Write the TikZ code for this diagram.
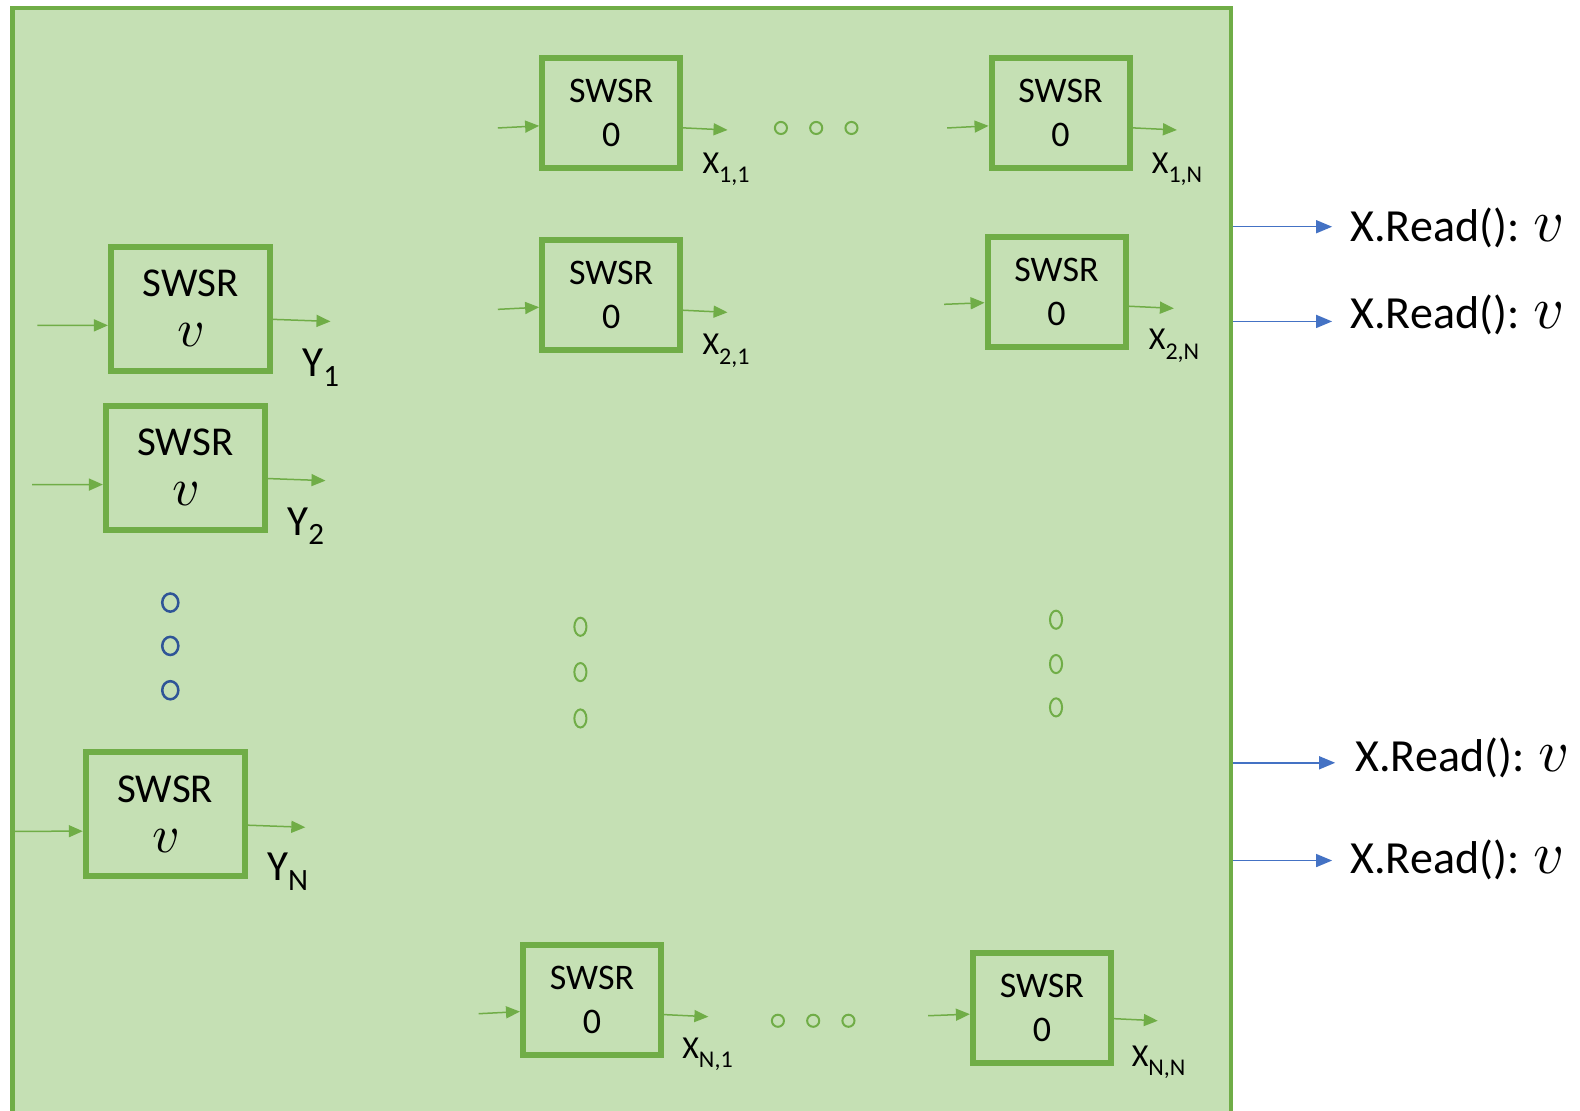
\documentclass[tikz,border=0pt]{standalone}
\usepackage{graphicx}
\usepackage{fontspec}
\setmainfont{Carlito}
\usepackage{unicode-math}
\setmathfont{Latin Modern Math}
\usetikzlibrary{arrows.meta}
\definecolor{bg}{HTML}{C5E0B4}
\definecolor{grn}{HTML}{70AD47}
\definecolor{blu}{HTML}{4472C4}
\definecolor{dblu}{HTML}{2F5597}
\newcommand{\mysub}[1]{\raisebox{-0.3em}{\fontsize{24}{24}\selectfont #1}}
\newcommand{\mysubY}[1]{\raisebox{-0.22em}{\fontsize{31}{31}\selectfont #1}}
\newcommand{\scv}{\scalebox{1.3}{$v$}}
\begin{document}
\begin{tikzpicture}[x=1.0077pt,y=-1.0077pt,
  swsrbox/.style={draw=grn, line width=6pt, align=center, inner sep=0pt},
  ybox/.style={swsrbox, minimum width=159pt, minimum height=124pt, font=\fontsize{41}{50}\selectfont},
  xbox/.style={swsrbox, minimum width=138pt, minimum height=110pt, font=\fontsize{36}{44}\selectfont},
  garrow/.style={draw=grn, line width=1.5pt, -{Triangle[length=14pt,width=12pt]}},
  barrow/.style={draw=blu, line width=1.5pt, -{Triangle[length=16pt,width=13pt]}},
  lbl/.style={anchor=base west, inner sep=0pt, font=\fontsize{32}{36}\selectfont},
  lbly/.style={anchor=base west, inner sep=0pt, font=\fontsize{43}{46}\selectfont},
  rlbl/.style={anchor=base west, inner sep=0pt, font=\fontsize{46}{50}\selectfont},
  gdot/.style={draw=grn, line width=2pt},
  bdot/.style={draw=dblu, line width=2.5pt}]
\useasboundingbox (0,0) rectangle (1568,1102);
% frame
\node[draw=grn, fill=bg, line width=4.5pt, minimum width=1219pt, minimum height=1112pt, inner sep=0pt] (frame) at (617,559.5) {};
% Y boxes
\node[ybox] (Y1) at (189,306.5) {SWSR\\\scv};
\node[ybox] (Y2) at (184,464) {SWSR\\\scv};
\node[ybox] (YN) at (164,808) {SWSR\\\scv};
% X boxes
\node[xbox] (X11) at (606.5,112.5) {SWSR\\0};
\node[xbox] (X1N) at (1052.5,112.5) {SWSR\\0};
\node[xbox] (X21) at (606.5,293) {SWSR\\0};
\node[xbox] (X2N) at (1048.5,289.5) {SWSR\\0};
\node[xbox] (XN1) at (587.5,992) {SWSR\\0};
\node[xbox] (XNN) at (1034,1000.5) {SWSR\\0};
% input coordinates
\coordinate (iY1) at (37,323);
\coordinate (iY2) at (32,481);
\coordinate (iYN) at (14,825);
\coordinate (iX11) at (494,127);
\coordinate (iX1N) at (940,127);
\coordinate (iX21) at (494,307);
\coordinate (iX2N) at (937,302);
\coordinate (iXN1) at (475,1006);
\coordinate (iXNN) at (921,1008);
\draw[garrow] (iY1) -- ([yshift=-16.5pt]Y1.west);
\draw[garrow] (iY2) -- ([yshift=-17pt]Y2.west);
\draw[garrow] (iYN) -- ([yshift=-17pt]YN.west);
\draw[garrow] (iX11) -- ([yshift=-12.5pt]X11.west);
\draw[garrow] (iX1N) -- ([yshift=-12.5pt]X1N.west);
\draw[garrow] (iX21) -- ([yshift=-12pt]X21.west);
\draw[garrow] (iX2N) -- ([yshift=-11pt]X2N.west);
\draw[garrow] (iXN1) -- ([yshift=-12pt]XN1.west);
\draw[garrow] (iXNN) -- ([yshift=-6pt]XNN.west);
% output coordinates
\coordinate (oY1) at (328,319);
\coordinate (oY2) at (323,477);
\coordinate (oYN) at (303,821);
\coordinate (oX11) at (722,129);
\coordinate (oX1N) at (1168,129);
\coordinate (oX21) at (722,310);
\coordinate (oX2N) at (1165,306);
\coordinate (oXN1) at (703,1009);
\coordinate (oXNN) at (1149,1013);
\draw[garrow] ([yshift=-10.5pt]Y1.east) -- (oY1);
\draw[garrow] ([yshift=-11pt]Y2.east) -- (oY2);
\draw[garrow] ([yshift=-11pt]YN.east) -- (oYN);
\draw[garrow] ([yshift=-14.5pt]X11.east) -- (oX11);
\draw[garrow] ([yshift=-14.5pt]X1N.east) -- (oX1N);
\draw[garrow] ([yshift=-15pt]X21.east) -- (oX21);
\draw[garrow] ([yshift=-14.5pt]X2N.east) -- (oX2N);
\draw[garrow] ([yshift=-15pt]XN1.east) -- (oXN1);
\draw[garrow] ([yshift=-10.5pt]XNN.east) -- (oXNN);
% labels
\node[lbly] (lY1) at (300,374) {Y\mysubY{1}};
\node[lbly] (lY2) at (285,531) {Y\mysubY{2}};
\node[lbly] (lYN) at (265,874) {Y\mysubY{N}};
\node[lbl] (lX11) at (697,172) {X\mysub{1,1}};
\node[lbl] (lX1N) at (1143,172) {X\mysub{1,N}};
\node[lbl] (lX21) at (697,352) {X\mysub{2,1}};
\node[lbl] (lX2N) at (1140,347) {X\mysub{2,N}};
\node[lbl] (lXN1) at (677,1050) {X\mysub{N,1}};
\node[lbl] (lXNN) at (1123,1058) {X\mysub{N,N}};
% dots
\foreach \x in {775,810,845} \draw[gdot] (\x,127) circle[radius=6];
\foreach \x in {772,807,842} \draw[gdot] (\x,1013) circle[radius=6];
\foreach \y in {622,667,713} \draw[gdot] (576,\y) ellipse[x radius=6, y radius=9];
\foreach \y in {615,659,702} \draw[gdot] (1048,\y) ellipse[x radius=6, y radius=9];
\foreach \y in {598,641,685} \draw[bdot] (169,\y) ellipse[x radius=8, y radius=9];
% read arrows
\coordinate (t1) at (1322,225);
\coordinate (t2) at (1322,319);
\coordinate (t3) at (1325,757);
\coordinate (t4) at (1322,854);
\draw[barrow] (frame.east |- t1) -- (t1);
\draw[barrow] (frame.east |- t2) -- (t2);
\draw[barrow] (frame.east |- t3) -- (t3);
\draw[barrow] (frame.east |- t4) -- (t4);
\node[rlbl] (r1) at (1340,240) {X.Read(): \scv};
\node[rlbl] (r2) at (1340,326) {X.Read(): \scv};
\node[rlbl] (r3) at (1345,766) {X.Read(): \scv};
\node[rlbl] (r4) at (1340,867) {X.Read(): \scv};
\end{tikzpicture}
\end{document}
